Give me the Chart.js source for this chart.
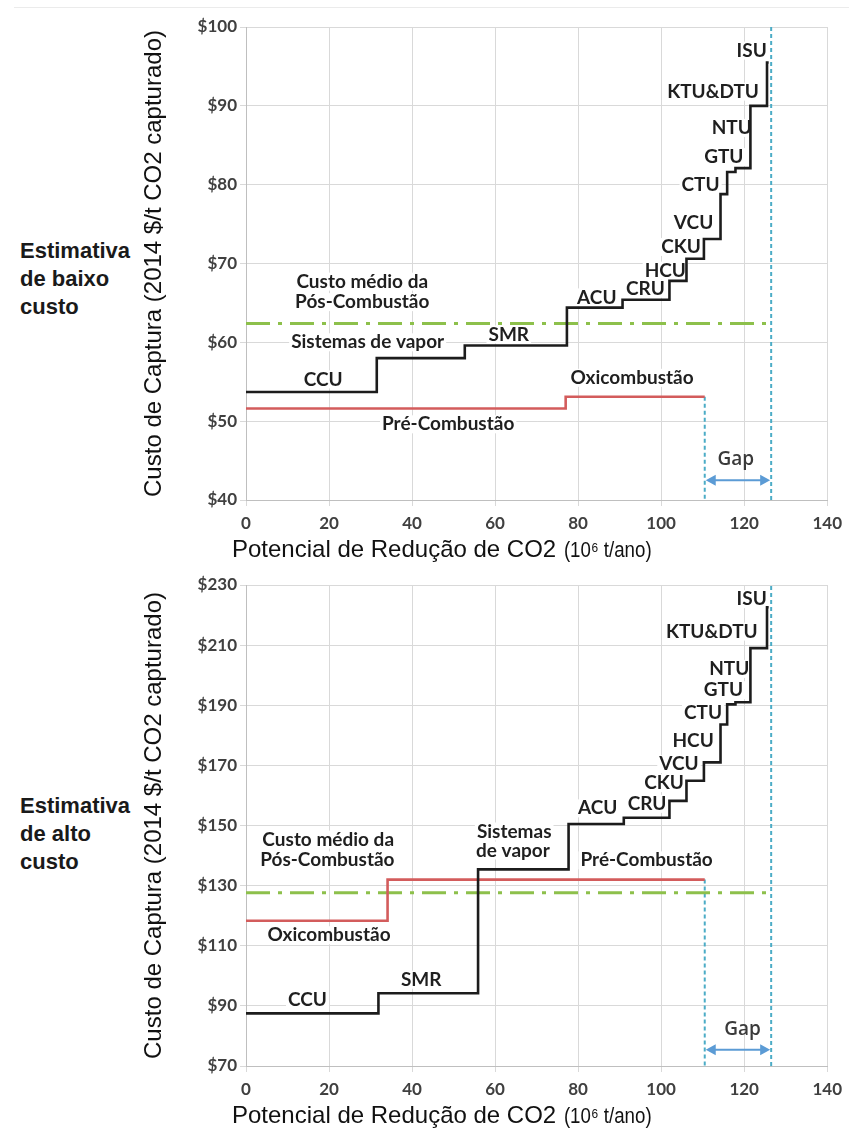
<!DOCTYPE html>
<html lang="pt">
<head>
<meta charset="utf-8">
<title>Custo de captura de CO2</title>
<script src="https://cdn.jsdelivr.net/npm/chart.js@4.4.1/dist/chart.umd.min.js"></script>
<style>
  body { margin: 0; background: #fff; width: 849px; height: 1131px; position: relative; overflow: hidden; }
  canvas { position: absolute; left: 0; }
  #low { top: 0; }
  #high { top: 566px; }
  .frame { position: absolute; left: 14px; right: 0; top: 7px; height: 1px; background: #ebebeb; }
  .side { position: absolute; left: 20px; font: bold 22px "Liberation Sans", Arial, sans-serif; line-height: 28px; color: #1a1a1a; }
</style>
</head>
<body>
<div class="frame"></div>
<div class="side" style="top:237px">Estimativa<br>de baixo<br>custo</div>
<div class="side" style="top:792px">Estimativa<br>de alto<br>custo</div>
<canvas id="low" width="849" height="566"></canvas>
<canvas id="high" width="849" height="566"></canvas>
<script>
// eixos
const xTicks = [0, 20, 40, 60, 80, 100, 120, 140];
const lowYTicks = [40, 50, 60, 70, 80, 90, 100];
const highYTicks = [70, 90, 110, 130, 150, 170, 190, 210, 230];

const gapStart = 110.5;
const gapEnd = 126.5;

// estimativa de baixo custo
const lowPostX    = [0, 31.5, 52.7, 77.3, 90.7, 102.0, 106.1, 110.3, 114.3, 115.9, 117.9, 121.5, 125.5, 125.9];
const lowPostCost = [53.7, 58.0, 59.6, 64.4, 65.4, 67.8, 70.6, 73.1, 78.8, 81.6, 82.1, 90.0, 95.5, 95.5];
const lowPreX     = [0, 77.0, 110.5];
const lowPreCost  = [51.6, 53.1, 53.1];
const lowAvgCost  = 62.4;
const lowGap      = [42.5, 45.1, 118.0]; // seta, texto (y), texto (x)

// estimativa de alto custo
const highPostX    = [0, 31.9, 55.9, 77.7, 91.0, 102.0, 106.1, 110.3, 114.3, 115.9, 117.9, 121.5, 125.5, 125.9];
const highPostCost = [87.5, 94.2, 135.4, 150.5, 152.6, 158.2, 164.9, 171.0, 183.6, 190.3, 191.0, 209.0, 222.6, 222.6];
const highPreX     = [0, 34.1, 110.5];
const highPreCost  = [118.3, 132.0, 132.0];
const highAvgCost  = 127.6;
const highGap      = [75.4, 82.1, 119.6];

// rótulos [texto, x, y]
const lowNotes = [
  ['Custo médio da', 28.0, 67.7], ['Pós-Combustão', 28.0, 65.1],
  ['Sistemas de vapor', 29.3, 60.0], ['SMR', 63.3, 61.0], ['CCU', 18.6, 55.3],
  ['Oxicombustão', 93.0, 55.5], ['Pré-Combustão', 48.7, 49.6],
  ['ACU', 84.5, 65.7], ['CRU', 96.2, 66.8], ['HCU', 101.0, 69.1], ['CKU', 104.8, 72.1],
  ['VCU', 107.8, 75.2], ['CTU', 109.5, 80.0], ['GTU', 115.1, 83.5], ['NTU', 117.0, 87.2],
  ['KTU&DTU', 112.5, 91.8], ['ISU', 121.8, 97.0]
];
const highNotes = [
  ['Custo médio da', 19.8, 145.3], ['Pós-Combustão', 19.6, 138.4], ['Oxicombustão', 20.0, 113.5],
  ['Sistemas', 64.6, 148.0], ['de vapor', 64.3, 141.7], ['Pré-Combustão', 96.5, 138.4],
  ['SMR', 42.2, 98.7], ['CCU', 14.8, 92.0],
  ['ACU', 84.7, 155.7], ['CRU', 96.6, 157.2], ['CKU', 100.7, 164.1], ['VCU', 104.3, 170.4],
  ['HCU', 107.7, 178.1], ['CTU', 110.1, 187.5], ['GTU', 115.0, 195.0], ['NTU', 116.4, 202.1],
  ['KTU&DTU', 112.2, 214.5], ['ISU', 121.8, 225.3]
];

const pts = (xs, ys) => xs.map((x, i) => ({ x: x, y: ys[i] }));
const last = a => a[a.length - 1];

const notesPlugin = {
  id: 'notes',
  beforeDatasetsDraw(chart, args, opts) {
    const { ctx, scales: { x, y } } = chart;
    ctx.save();
    ctx.font = 'bold 19px Lato';
    ctx.textAlign = 'center';
    ctx.textBaseline = 'middle';
    opts.items.forEach(([text, vx, vy]) => {
      const px = x.getPixelForValue(vx);
      const py = y.getPixelForValue(vy);
      const w = ctx.measureText(text).width;
      ctx.fillStyle = '#fff';
      ctx.fillRect(px - w / 2 - 2, py - 9, w + 4, 18);
      ctx.fillStyle = '#1f1f1f';
      ctx.fillText(text, px, py);
    });
    ctx.restore();
  },
  afterDatasetsDraw(chart, args, opts) {
    const { ctx, scales: { x, y } } = chart;
    const [arrowY, textY, textX] = opts.gap;
    const x1 = x.getPixelForValue(gapStart) + 1;
    const x2 = x.getPixelForValue(gapEnd) - 1;
    const py = y.getPixelForValue(arrowY);
    ctx.save();
    ctx.strokeStyle = '#5b9bd5';
    ctx.fillStyle = '#5b9bd5';
    ctx.lineWidth = 2;
    ctx.beginPath();
    ctx.moveTo(x1 + 6, py);
    ctx.lineTo(x2 - 6, py);
    ctx.stroke();
    ctx.beginPath();
    ctx.moveTo(x1, py); ctx.lineTo(x1 + 10, py - 5.5); ctx.lineTo(x1 + 10, py + 5.5); ctx.closePath();
    ctx.moveTo(x2, py); ctx.lineTo(x2 - 10, py - 5.5); ctx.lineTo(x2 - 10, py + 5.5); ctx.closePath();
    ctx.fill();
    ctx.font = '600 19px "Open Sans"';
    ctx.fillStyle = '#3a3a3a';
    ctx.textAlign = 'center';
    ctx.textBaseline = 'middle';
    ctx.fillText('Gap', x.getPixelForValue(textX), y.getPixelForValue(textY));
    ctx.restore();
  },
  afterDraw(chart) {
    // título do eixo X
    const { ctx, chartArea } = chart;
    const left = chartArea.left - 14;
    const ty = chartArea.bottom + 50;
    ctx.save();
    ctx.fillStyle = '#111';
    ctx.textBaseline = 'middle';
    ctx.textAlign = 'left';
    ctx.font = '24px "Liberation Sans"';
    const main = 'Potencial de Redução de CO2 ';
    ctx.fillText(main, left, ty);
    const w = ctx.measureText(main).width;
    ctx.translate(left + w + 1, ty);
    ctx.scale(0.85, 1);
    ctx.font = '22px "Liberation Sans"';
    ctx.fillText('(10⁶ t/ano)', 0, 1);
    ctx.restore();
  }
};

function makeChart(id, o) {
  const yMin = o.yTicks[0];
  const yMax = last(o.yTicks);
  return new Chart(document.getElementById(id), {
    type: 'line',
    data: {
      datasets: [
        { data: pts(o.postX, o.postCost), borderColor: '#1c1c1c', borderWidth: 2.6, stepped: true },
        { data: pts(o.preX, o.preCost), borderColor: '#d35c5c', borderWidth: 2.6, stepped: true },
        { data: [{ x: 0, y: o.avg }, { x: gapEnd, y: o.avg }], borderColor: '#8dc04b', borderWidth: 3, borderDash: [24, 8, 4, 8] },
        { data: [{ x: gapStart, y: last(o.preCost) }, { x: gapStart, y: yMin }], borderColor: '#4bacc6', borderWidth: 2, borderDash: [4, 3] },
        { data: [{ x: gapEnd, y: yMin }, { x: gapEnd, y: yMax }], borderColor: '#4bacc6', borderWidth: 2, borderDash: [4, 3] }
      ]
    },
    options: {
      responsive: false,
      animation: false,
      elements: { point: { radius: 0 }, line: { tension: 0 } },
      layout: { padding: { left: 140, right: 16, top: o.top, bottom: 0 } },
      plugins: {
        legend: { display: false },
        tooltip: { enabled: false },
        notes: { items: o.notes, gap: o.gap }
      },
      scales: {
        x: {
          type: 'linear', min: 0, max: 140,
          afterBuildTicks: s => { s.ticks = xTicks.map(v => ({ value: v })); },
          afterFit: s => { s.height = 66; },
          grid: { color: '#d9d9d9', tickLength: 6 },
          border: { color: '#bfbfbf' },
          ticks: { padding: 7, color: '#404040', font: { family: 'Lato', weight: 'bold', size: 17 } }
        },
        y: {
          min: yMin, max: yMax,
          afterBuildTicks: s => { s.ticks = o.yTicks.map(v => ({ value: v })); },
          afterFit: s => { s.width = 106; },
          grid: { color: '#d9d9d9', tickLength: 6 },
          border: { color: '#bfbfbf' },
          ticks: { padding: 3, color: '#404040', font: { family: 'Lato', weight: 'bold', size: 17 }, callback: v => '$' + v },
          title: {
            display: true,
            text: 'Custo de Captura (2014 $/t CO2 capturado)',
            color: '#111',
            padding: { top: 0, bottom: 0 },
            font: { family: 'Liberation Sans', size: 24 }
          }
        }
      }
    },
    plugins: [notesPlugin]
  });
}

makeChart('low', {
  postX: lowPostX, postCost: lowPostCost, preX: lowPreX, preCost: lowPreCost,
  avg: lowAvgCost, yTicks: lowYTicks, notes: lowNotes, gap: lowGap, top: 27
});
makeChart('high', {
  postX: highPostX, postCost: highPostCost, preX: highPreX, preCost: highPreCost,
  avg: highAvgCost, yTicks: highYTicks, notes: highNotes, gap: highGap, top: 19
});
</script>
</body>
</html>
